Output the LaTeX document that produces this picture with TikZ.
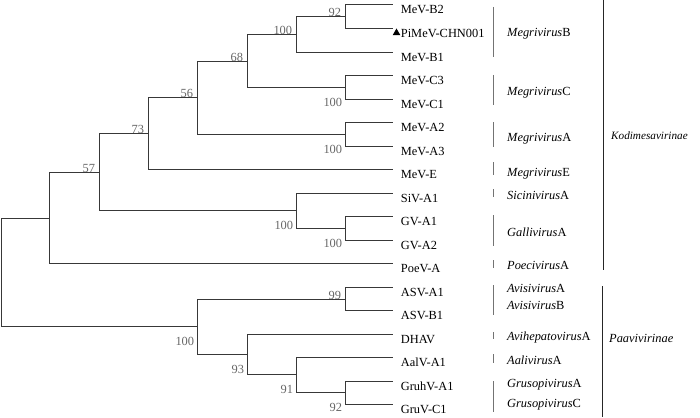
\documentclass[tikz,border=0pt]{standalone}
\usepackage{fontspec}
\setmainfont{Liberation Serif}
\usetikzlibrary{positioning,shapes.geometric}

\begin{document}
\begin{tikzpicture}[x=1pt,y=-1pt,
  every node/.style={font=\fontsize{12.4}{14}\selectfont},
  br/.style={draw=black!78,line width=1pt,line cap=rect},
  jn/.style={inner sep=0pt,minimum size=0pt},
  tip/.style={inner sep=0pt,minimum size=0pt},
  taxon/.style={inner sep=0pt,xshift=8pt,yshift=-4.5pt,text height=8.2pt,text depth=0pt},
  bs/.style={inner sep=0pt,text=black!60,text height=8.4pt,text depth=0pt},
  bup/.style={label={[bs,xshift=-4pt,yshift=4.2pt]left:#1}},
  bdn/.style={label={[bs,xshift=-3pt,yshift=-14.5pt]left:#1}},
  genus/.style={anchor=west,inner sep=0pt,text height=8.2pt,text depth=0pt},
  clade/.style={draw=black!55,line width=1pt},
  fam/.style={draw=black!85,line width=1pt},
  flag/.style={regular polygon,regular polygon sides=3,fill=black,inner sep=0pt,minimum size=9pt}]
\useasboundingbox (0,0) rectangle (700,417);

\node[tip,label={[taxon]right:MeV-B2}] (b2) at (392.5,4.5) {};
\node[tip,label={[taxon]right:PiMeV-CHN001}] (pi) at (392.5,28.5) {};
\node[tip,label={[taxon]right:MeV-B1}] (b1) at (392.5,52.5) {};
\node[tip,label={[taxon]right:MeV-C3}] (c3) at (392.5,75.5) {};
\node[tip,label={[taxon]right:MeV-C1}] (c1) at (392.5,99.5) {};
\node[tip,label={[taxon]right:MeV-A2}] (a2) at (392.5,122.5) {};
\node[tip,label={[taxon]right:MeV-A3}] (a3) at (392.5,146.5) {};
\node[tip,label={[taxon]right:MeV-E}] (me) at (392.5,169.5) {};
\node[tip,label={[taxon]right:SiV-A1}] (siv) at (392.5,193.5) {};
\node[tip,label={[taxon]right:GV-A1}] (g1) at (392.5,216.5) {};
\node[tip,label={[taxon]right:GV-A2}] (g2) at (392.5,240.5) {};
\node[tip,label={[taxon]right:PoeV-A}] (poe) at (392.5,263.5) {};
\node[tip,label={[taxon]right:ASV-A1}] (asa) at (392.5,287.5) {};
\node[tip,label={[taxon]right:ASV-B1}] (asb) at (392.5,310.5) {};
\node[tip,label={[taxon]right:DHAV}] (dhav) at (392.5,334.5) {};
\node[tip,label={[taxon]right:AalV-A1}] (aal) at (392.5,357.5) {};
\node[tip,label={[taxon]right:GruhV-A1}] (gh) at (392.5,381.5) {};
\node[tip,label={[taxon]right:GruV-C1}] (gc) at (392.5,404.5) {};
\node[flag] (piflag) at (396.5,33) {};

\node[jn,bup=92] (k92) at (345.5,16.5) {};
\node[jn,bup=100] (kB) at (296.5,34.5) {};
\node[jn,bdn=100] (kC) at (345.5,87.5) {};
\node[jn,bup=68] (k68) at (247.5,61.5) {};
\node[jn,bdn=100] (kA) at (345.5,134.5) {};
\node[jn,bup=56] (k56) at (197.5,97.5) {};
\node[jn,bup=73] (k73) at (148.5,133.5) {};
\node[jn,bdn=100] (kG) at (345.5,228.5) {};
\node[jn,bdn=100] (kS) at (296.5,210.5) {};
\node[jn,bup=57] (k57) at (99.5,172.5) {};
\node[jn] (kK) at (49.5,218.5) {};
\node[jn,bup=99] (kV) at (345.5,299.5) {};
\node[jn,bdn=92] (kR) at (345.5,392.5) {};
\node[jn,bdn=91] (k91) at (296.5,374.5) {};
\node[jn,bdn=93] (k93) at (247.5,354.5) {};
\node[jn,bdn=100] (kP) at (197.5,326.5) {};
\node[jn] (root) at (1.5,272.5) {};

\draw[br] (root) |- (kK); \draw[br] (root) |- (kP);
\draw[br] (kK) |- (k57); \draw[br] (kK) |- (poe);
\draw[br] (k57) |- (k73); \draw[br] (k57) |- (kS);
\draw[br] (k73) |- (k56); \draw[br] (k73) |- (me);
\draw[br] (k56) |- (k68); \draw[br] (k56) |- (kA);
\draw[br] (k68) |- (kB); \draw[br] (k68) |- (kC);
\draw[br] (kB) |- (k92); \draw[br] (kB) |- (b1);
\draw[br] (k92) |- (b2); \draw[br] (k92) |- (pi);
\draw[br] (kC) |- (c3); \draw[br] (kC) |- (c1);
\draw[br] (kA) |- (a2); \draw[br] (kA) |- (a3);
\draw[br] (kS) |- (siv); \draw[br] (kS) |- (kG);
\draw[br] (kG) |- (g1); \draw[br] (kG) |- (g2);
\draw[br] (kP) |- (kV); \draw[br] (kP) |- (k93);
\draw[br] (kV) |- (asa); \draw[br] (kV) |- (asb);
\draw[br] (k93) |- (dhav); \draw[br] (k93) |- (k91);
\draw[br] (k91) |- (aal); \draw[br] (k91) |- (kR);
\draw[br] (kR) |- (gh); \draw[br] (kR) |- (gc);

\draw[clade] (493.5,7) -- (493.5,57);
\draw[clade] (493.5,75) -- (493.5,105);
\draw[clade] (493.5,122) -- (493.5,147);
\draw[clade] (493.5,162) -- (493.5,175);
\draw[clade] (493.5,189) -- (493.5,197);
\draw[clade] (493.5,215) -- (493.5,246);
\draw[clade] (493.5,260) -- (493.5,268);
\draw[clade] (493.5,285) -- (493.5,315);
\draw[clade] (493.5,332) -- (493.5,339);
\draw[clade] (493.5,354) -- (493.5,363);
\draw[clade] (493.5,381) -- (493.5,412);
\node[genus] (megB) at (507,32) {\textit{Megrivirus}B};
\node[genus] (megC) at (507,91) {\textit{Megrivirus}C};
\node[genus] (megA) at (507,137) {\textit{Megrivirus}A};
\node[genus] (megE) at (507,172) {\textit{Megrivirus}E};
\node[genus] (sicA) at (507,195) {\textit{Sicinivirus}A};
\node[genus] (galA) at (507,232) {\textit{Gallivirus}A};
\node[genus] (poeA) at (507,265) {\textit{Poecivirus}A};
\node[genus] (avsA) at (507,288) {\textit{Avisivirus}A};
\node[genus] (avsB) at (507,305) {\textit{Avisivirus}B};
\node[genus] (avhA) at (507,336) {\textit{Avihepatovirus}A};
\node[genus] (aalA) at (507,360) {\textit{Aalivirus}A};
\node[genus] (grsA) at (507,383) {\textit{Grusopivirus}A};
\node[genus] (grsC) at (507,403) {\textit{Grusopivirus}C};

\draw[fam] (603.5,0) -- (603.5,270);
\draw[fam] (602.5,286) -- (602.5,417);
\node[genus,font=\fontsize{11.2}{13}\selectfont] (kodi) at (611,135) {\textit{Kodimesavirinae}};
\node[genus] (paav) at (609,338) {\textit{Paavivirinae}};
\end{tikzpicture}
\end{document}
